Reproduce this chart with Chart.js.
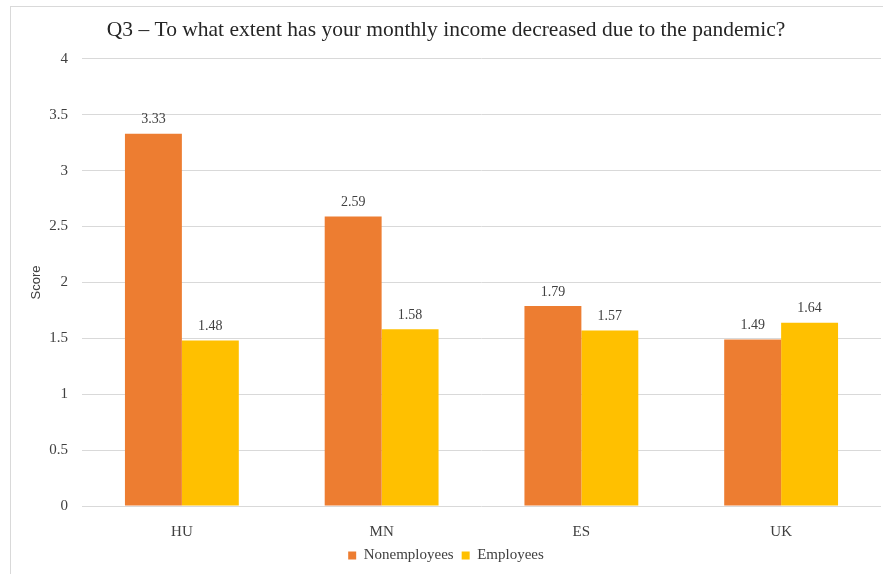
<!DOCTYPE html>
<html>
<head>
<meta charset="utf-8">
<script src="https://cdn.jsdelivr.net/npm/chart.js@4"></script>
<style>
  html, body { margin: 0; padding: 0; background: #fff; overflow: hidden; }
  #box {
    position: absolute; left: 10px; top: 6px; width: 886px; height: 568px;
    border-left: 1px solid #d9d9d9; border-top: 1px solid #d9d9d9;
  }
</style>
</head>
<body>
<div id="box"><canvas id="chartCanvas" width="886" height="568"></canvas></div>
<script>
const countries = ['HU', 'MN', 'ES', 'UK'];
const nonemployees = [3.33, 2.59, 1.79, 1.49];
const employees = [1.48, 1.58, 1.57, 1.64];
const serif = '"Liberation Serif", "Times New Roman", serif';

// draws the value above each bar
const barValues = {
    id: 'barValues',
    afterDatasetsDraw(chart) {
        const ctx = chart.ctx;
        ctx.save();
        ctx.font = '14px ' + serif;
        ctx.fillStyle = '#404040';
        ctx.textAlign = 'center';
        ctx.textBaseline = 'bottom';
        chart.data.datasets.forEach((ds, i) => {
            chart.getDatasetMeta(i).data.forEach((bar, j) => {
                ctx.fillText(ds.data[j].toFixed(2), bar.x, bar.y - 7);
            });
        });
        ctx.restore();
    }
};

new Chart(document.getElementById('chartCanvas'), {
    type: 'bar',
    data: {
        labels: countries,
        datasets: [
            {
                label: 'Nonemployees',
                backgroundColor: '#ED7D31',
                data: nonemployees
            },
            {
                label: 'Employees',
                backgroundColor: '#FFC000',
                data: employees
            }
        ]
    },
    options: {
        responsive: false,
        animation: false,
        layout: { padding: { left: 0, right: 16, top: 0, bottom: 2 } },
        datasets: { bar: { barPercentage: 1, categoryPercentage: 0.57 } },
        plugins: {
            title: {
                display: true,
                text: 'Q3 \u2013 To what extent has your monthly income decreased due to the pandemic?',
                color: '#262626',
                font: { family: serif, size: 21.5, weight: 'normal' },
                padding: { top: 10, bottom: 16 }
            },
            legend: {
                position: 'bottom',
                labels: {
                    color: '#404040',
                    font: { family: serif, size: 15 },
                    boxWidth: 8,
                    boxHeight: 8,
                    padding: 8
                }
            },
            tooltip: { enabled: false }
        },
        scales: {
            x: {
                grid: { display: false, drawTicks: false },
                border: { display: false },
                ticks: { color: '#404040', font: { family: serif, size: 15 }, padding: 17 },
                afterFit(scale) { scale.height = 34; }
            },
            y: {
                min: 0,
                max: 4,
                ticks: {
                    stepSize: 0.5,
                    color: '#404040',
                    font: { family: serif, size: 15 },
                    padding: 14,
                    callback: (v) => String(Number(v))
                },
                grid: { color: '#d9d9d9', drawTicks: false },
                border: { display: false },
                title: {
                    display: true,
                    text: 'Score',
                    color: '#404040',
                    font: { family: '"Liberation Sans", Arial, sans-serif', size: 13 },
                    padding: { top: 18, bottom: 0 }
                },
                afterFit(scale) { scale.width = 71; }
            }
        }
    },
    plugins: [barValues]
});
</script>
</body>
</html>
